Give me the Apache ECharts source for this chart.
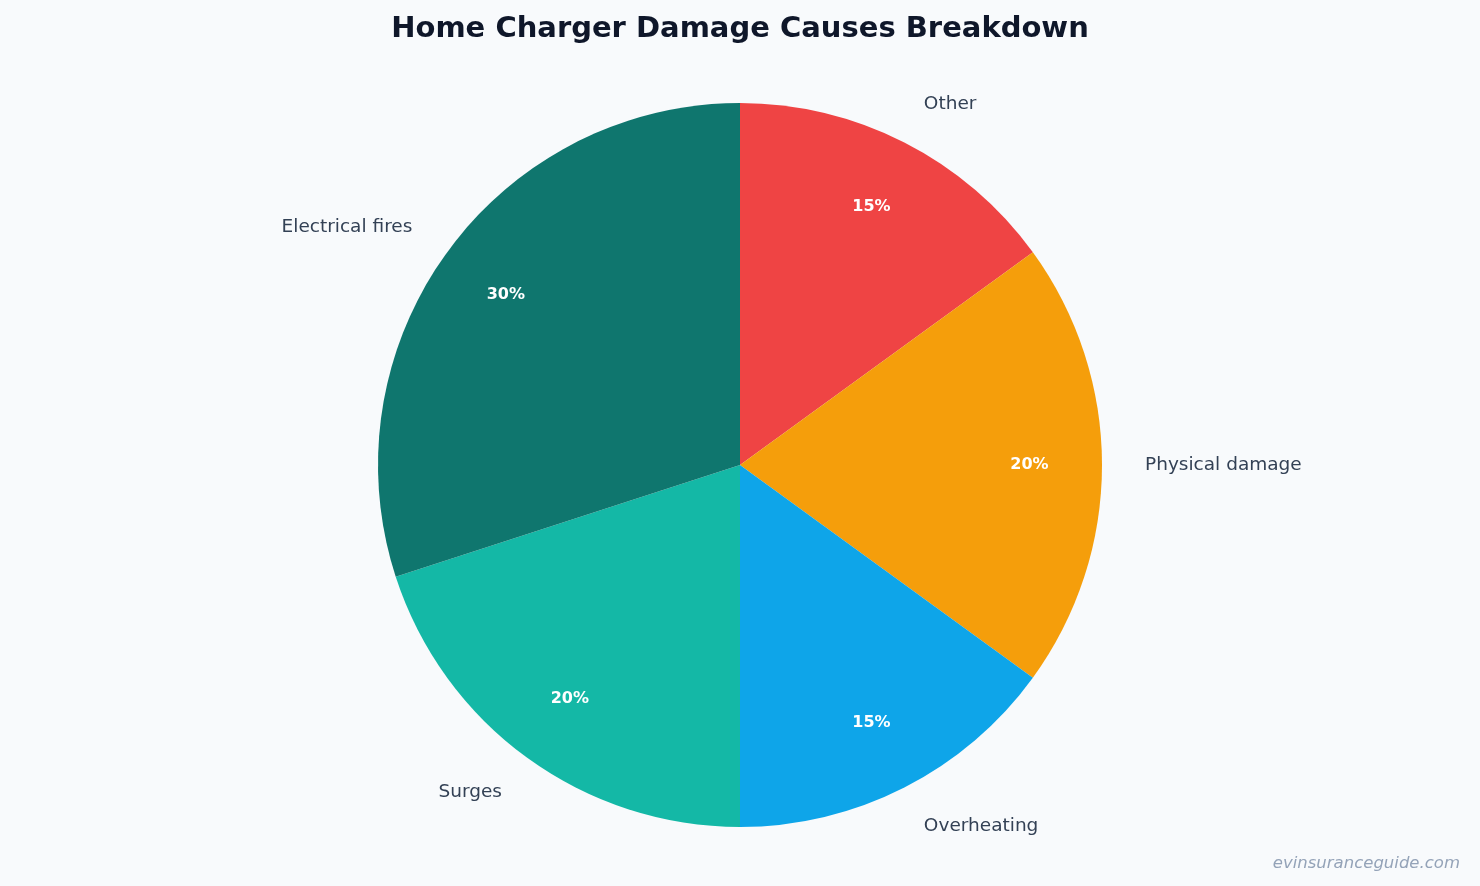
<!DOCTYPE html>
<html>
<head>
<meta charset="UTF-8">
<title>Home Charger Damage Causes Breakdown</title>
<script type="text/javascript" src="https://cdn.jsdelivr.net/npm/echarts@6/dist/echarts.min.js"></script>
<style>
  html, body { margin: 0; padding: 0; background: #f8fafc; }
</style>
</head>
<body>
    <div id="main" style="width: 1480px;height:886px;"></div>
    <script type="text/javascript">
        // 数据：从12点方向顺时针
        var causes = ['Other', 'Physical damage', 'Overheating', 'Surges', 'Electrical fires'];
        var shares = [15, 20, 15, 20, 30];
        var colors = ['#ef4444', '#f59e0b', '#0ea5e9', '#14b8a6', '#0f766e'];

        var pieData = causes.map(function (name, i) {
            return { name: name, value: shares[i], itemStyle: { color: colors[i] } };
        });

        var myChart = echarts.init(document.getElementById('main'));

        var option = {
            backgroundColor: '#f8fafc',
            animation: false,
            title: {
                text: 'Home Charger Damage Causes Breakdown',
                left: 'center',
                top: 10,
                textStyle: {
                    fontFamily: 'DejaVu Sans',
                    fontSize: 29,
                    fontWeight: 'bold',
                    color: '#0f172a'
                }
            },
            graphic: [{
                type: 'text',
                right: 20,
                bottom: 14,
                style: {
                    text: 'evinsuranceguide.com',
                    fontFamily: 'DejaVu Sans',
                    fontStyle: 'italic',
                    fontSize: 16.5,
                    fill: '#94a3b8'
                }
            }],
            series: [
                { // 外侧名称标签
                    type: 'pie',
                    center: [740, 465],
                    radius: 362,
                    startAngle: 90,
                    clockwise: true,
                    avoidLabelOverlap: false,
                    data: pieData,
                    label: {
                        show: true,
                        position: 'outside',
                        formatter: '{b}',
                        distanceToLabelLine: 0,
                        fontFamily: 'DejaVu Sans',
                        fontSize: 18.5,
                        color: '#334155'
                    },
                    labelLine: { show: false, length: 43, length2: 0 },
                    emphasis: { disabled: true }
                },
                { // 内部百分比
                    type: 'pie',
                    center: [740, 465],
                    radius: [211, 362],
                    startAngle: 90,
                    clockwise: true,
                    silent: true,
                    data: pieData.map(function (d) {
                        return { name: d.name, value: d.value, itemStyle: { color: 'transparent' } };
                    }),
                    label: {
                        show: true,
                        position: 'inside',
                        formatter: '{c}%',
                        fontFamily: 'DejaVu Sans',
                        fontSize: 16,
                        fontWeight: 'bold',
                        color: '#ffffff'
                    },
                    labelLine: { show: false }
                }
            ]
        };

        myChart.setOption(option);
    </script>
</body>
</html>
